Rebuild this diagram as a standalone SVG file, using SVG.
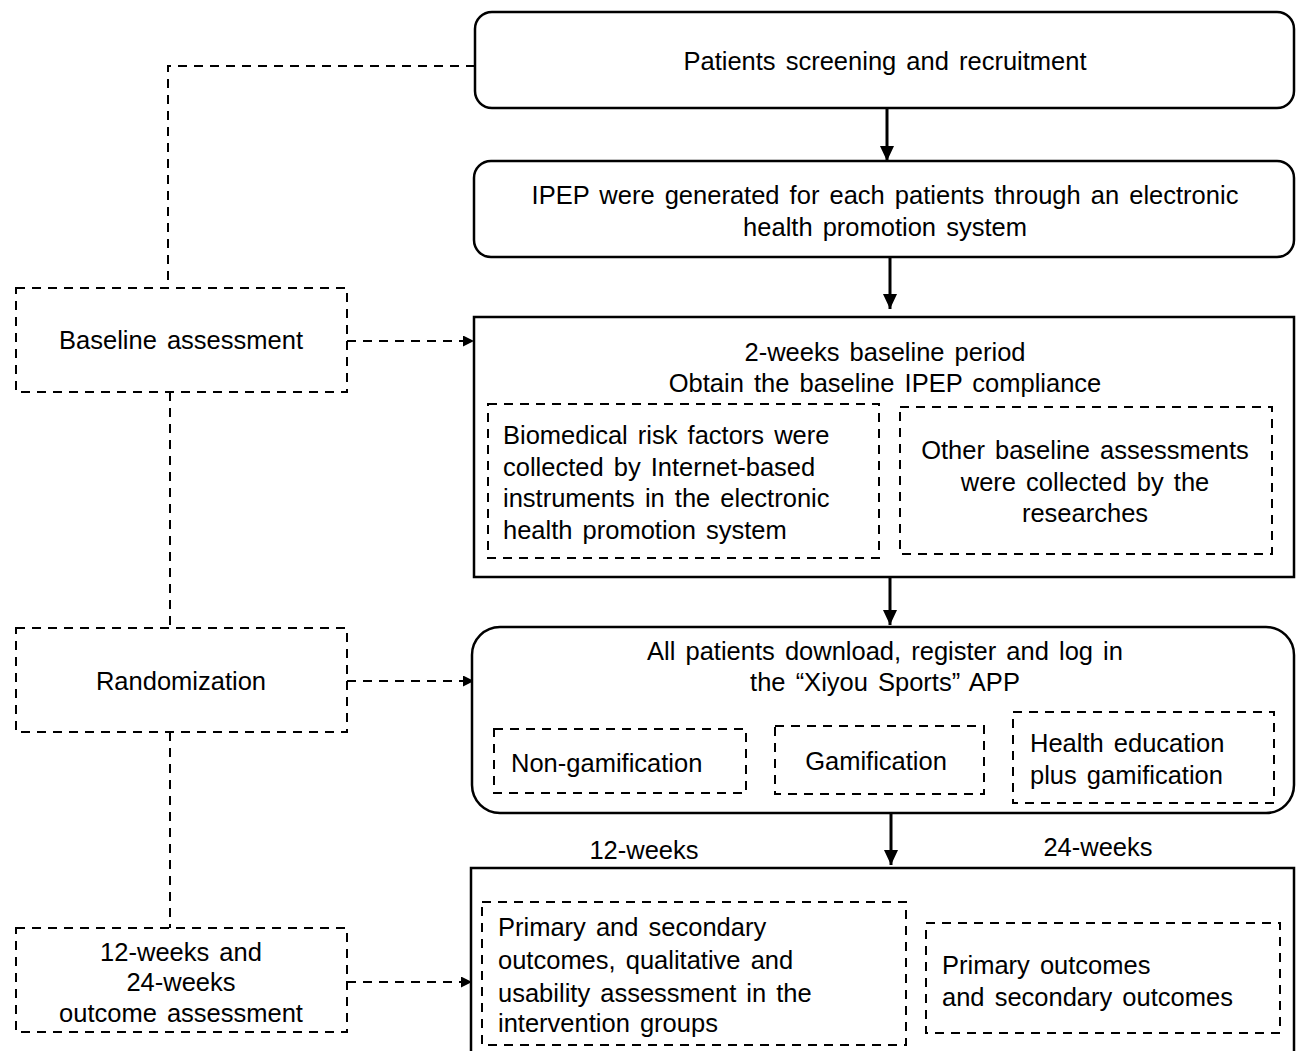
<svg xmlns="http://www.w3.org/2000/svg" width="1297" height="1051" viewBox="0 0 1297 1051">
<defs>
<style>
text{font-family:"Liberation Sans",Arial,sans-serif;font-size:25.5px;fill:#000;word-spacing:3px}
.c{text-anchor:middle}
.l{text-anchor:start}
.solid{fill:#fff;stroke:#000;stroke-width:2.5}
.dash{fill:none;stroke:#000;stroke-width:2;stroke-dasharray:9 7}
.arr{fill:none;stroke:#000;stroke-width:3}
.darr{fill:none;stroke:#000;stroke-width:2;stroke-dasharray:9 7}
</style>
<marker id="ah" markerUnits="userSpaceOnUse" markerWidth="16" markerHeight="16" refX="15" refY="7" orient="auto">
<path d="M0,0 L15,7 L0,14 Z" fill="#000"/>
</marker>
<marker id="sah" markerUnits="userSpaceOnUse" markerWidth="12" markerHeight="12" refX="11" refY="5.5" orient="auto">
<path d="M0,0 L11,5.5 L0,11 Z" fill="#000"/>
</marker>
</defs>
<rect width="1297" height="1051" fill="#fff"/>

<g id="connectors">
<line class="arr" x1="887" y1="108" x2="887" y2="161" marker-end="url(#ah)"/>
<line class="arr" x1="890" y1="257" x2="890" y2="309" marker-end="url(#ah)"/>
<line class="arr" x1="890" y1="577" x2="890" y2="625" marker-end="url(#ah)"/>
<line class="arr" x1="891" y1="813" x2="891" y2="865" marker-end="url(#ah)"/>
<path class="darr" d="M475,66 L168,66 L168,288"/>
<line class="darr" x1="170" y1="392" x2="170" y2="628"/>
<line class="darr" x1="170" y1="732" x2="170" y2="928"/>
<line class="darr" x1="347" y1="341" x2="474" y2="341" marker-end="url(#sah)"/>
<line class="darr" x1="347" y1="681" x2="474" y2="681" marker-end="url(#sah)"/>
<line class="darr" x1="347" y1="982" x2="472" y2="982" marker-end="url(#sah)"/>
</g>

<g id="screening">
<rect class="solid" x="475" y="12" width="819" height="96" rx="17"/>
<text class="c" x="885" y="70">Patients screening and recruitment</text>
</g>

<g id="ipep">
<rect class="solid" x="474" y="161" width="820" height="96" rx="17"/>
<text class="c" x="885" y="204">IPEP were generated for each patients through an electronic</text>
<text class="c" x="885" y="236">health promotion system</text>
</g>

<g id="baseline-period">
<rect class="solid" x="474" y="317" width="820" height="260"/>
<text class="c" x="885" y="361">2-weeks baseline period</text>
<text class="c" x="885" y="392">Obtain the baseline IPEP compliance</text>
</g>
<g id="biomedical">
<rect class="dash" x="488" y="404" width="391" height="154"/>
<text class="l" x="503" y="444">Biomedical risk factors were</text>
<text class="l" x="503" y="476">collected by Internet-based</text>
<text class="l" x="503" y="507">instruments in the electronic</text>
<text class="l" x="503" y="539">health promotion system</text>
</g>
<g id="other-baseline">
<rect class="dash" x="900" y="407" width="372" height="147"/>
<text class="c" x="1085" y="459">Other baseline assessments</text>
<text class="c" x="1085" y="491">were collected by the</text>
<text class="c" x="1085" y="522">researches</text>
</g>

<g id="app">
<rect class="solid" x="472" y="627" width="822" height="186" rx="28"/>
<text class="c" x="885" y="660">All patients download, register and log in</text>
<text class="c" x="885" y="691">the “Xiyou Sports” APP</text>
</g>
<g id="non-gamification">
<rect class="dash" x="494" y="729" width="252" height="64"/>
<text class="l" x="511" y="772">Non-gamification</text>
</g>
<g id="gamification">
<rect class="dash" x="775" y="726" width="209" height="68"/>
<text class="c" x="876" y="770">Gamification</text>
</g>
<g id="health-education">
<rect class="dash" x="1013" y="712" width="261" height="91"/>
<text class="l" x="1030" y="752">Health education</text>
<text class="l" x="1030" y="784">plus gamification</text>
</g>

<g id="labels">
<text class="c" x="644" y="859">12-weeks</text>
<text class="c" x="1098" y="856">24-weeks</text>
</g>

<g id="outcomes">
<rect class="solid" x="471" y="868" width="823" height="200"/>
</g>
<g id="outcomes-12">
<rect class="dash" x="482" y="902" width="424" height="143"/>
<text class="l" x="498" y="936">Primary and secondary</text>
<text class="l" x="498" y="969">outcomes, qualitative and</text>
<text class="l" x="498" y="1002">usability assessment in the</text>
<text class="l" x="498" y="1032">intervention groups</text>
</g>
<g id="outcomes-24">
<rect class="dash" x="926" y="923" width="354" height="110"/>
<text class="l" x="942" y="974">Primary outcomes</text>
<text class="l" x="942" y="1006">and secondary outcomes</text>
</g>

<g id="baseline-assessment">
<rect class="dash" x="16" y="288" width="331" height="104"/>
<text class="c" x="181" y="349">Baseline assessment</text>
</g>
<g id="randomization">
<rect class="dash" x="16" y="628" width="331" height="104"/>
<text class="c" x="181" y="690">Randomization</text>
</g>
<g id="outcome-assessment">
<rect class="dash" x="16" y="928" width="331" height="104"/>
<text class="c" x="181" y="961">12-weeks and</text>
<text class="c" x="181" y="991">24-weeks</text>
<text class="c" x="181" y="1022">outcome assessment</text>
</g>
</svg>
